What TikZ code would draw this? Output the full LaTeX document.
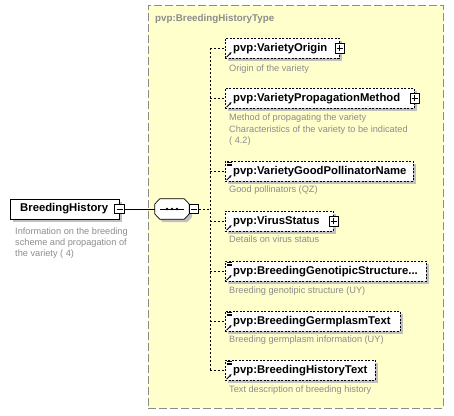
\documentclass[tikz,border=0pt]{standalone}
\usepackage{fontspec}
\setmainfont{Liberation Sans}
\usetikzlibrary{shadows,arrows.meta}
\definecolor{ybg}{HTML}{FFFFCC}
\definecolor{ybd}{HTML}{8C8C8C}
\definecolor{desc}{HTML}{8C8C8C}
\definecolor{shad}{HTML}{C0C0C0}
\tikzset{
  shd/.style={drop shadow={shadow xshift=3pt,shadow yshift=-3pt,fill=shad,opacity=1}},
  elbox/.style={draw=black,fill=white,dash pattern=on 2pt off 1.5pt,line width=0.7pt,shd,anchor=north west,minimum height=20pt,inner sep=0pt},
  lbl/.style={font=\bfseries\fontsize{11.3}{13}\selectfont,anchor=west,inner sep=0pt},
  dsc/.style={font=\fontsize{9.2}{11.2}\selectfont,text=desc,anchor=north west,align=left,inner sep=0pt},
  pmbox/.style={draw=black,fill=white,line width=0.8pt,minimum size=9.5pt,inner sep=0pt},
  conn/.style={line width=0.7pt,dash pattern=on 2pt off 2pt},
  arr/.style={line width=0.8pt,-{Stealth[length=2.6pt,width=2.6pt]}},
}
\newcommand{\plusmark}[1]{\draw[line width=0.8pt] ([xshift=-3pt]#1.center) -- ([xshift=3pt]#1.center) ([yshift=-3pt]#1.center) -- ([yshift=3pt]#1.center);}
\newcommand{\minusmark}[1]{\draw[line width=0.8pt] ([xshift=-3pt]#1.center) -- ([xshift=3pt]#1.center);}
\newcommand{\eqicon}[1]{\draw[line width=0.6pt] ([xshift=1.5pt,yshift=-1pt]#1.north west) -- ++(5,0) ([xshift=1.5pt,yshift=-2.8pt]#1.north west) -- ++(5,0) ([xshift=1.5pt,yshift=-4.6pt]#1.north west) -- ++(5,0);}
\newcommand{\refarrow}[1]{\draw[arr] ([xshift=1.5pt,yshift=1.5pt]#1.south west) -- ++(5,-5);}
\newcommand{\octpath}[1]{([yshift=5pt]#1.west) -- ([xshift=5pt]#1.north west) -- ([xshift=-5pt]#1.north east) -- ([yshift=5pt]#1.east) -- ([yshift=-5pt]#1.east) -- ([xshift=-5pt]#1.south east) -- ([xshift=5pt]#1.south west) -- ([yshift=-5pt]#1.west) -- cycle}
\begin{document}
\begin{tikzpicture}[x=1pt,y=-1pt]
\useasboundingbox (0,0) rectangle (454,415);
% type container
\node[draw=ybd,fill=ybg,line width=0.9pt,dash pattern=on 8pt off 3pt,anchor=north west,minimum width=295pt,minimum height=403pt,inner sep=0pt] (type) at (148,5) {};
\node[font=\bfseries\fontsize{9.8}{11}\selectfont,text=ybd,anchor=west,inner sep=0pt] (typet) at (155,19) {pvp:BreedingHistoryType};
% root element
\node[draw=black,fill=white,line width=0.7pt,shd,anchor=north west,minimum width=109pt,minimum height=20pt,inner sep=0pt] (root) at (10,199) {};
\node[lbl] (roott) at (20,209) {BreedingHistory};
\node[pmbox] (rootm) at (119.5,209) {};
\minusmark{rootm}
\node[dsc] (rootd) at (15,227.5) {Information on the breeding\\scheme and propagation of\\the variety ( 4)};
% sequence compositor
\node[inner sep=0pt,minimum width=34pt,minimum height=20pt] (seq) at (172,209) {};
\fill[shad,transform canvas={shift={(3pt,-3pt)}}] \octpath{seq};
\draw[line width=0.7pt,fill=white] \octpath{seq};
\draw[line width=0.8pt] ([xshift=-12pt]seq.center) -- ([xshift=12pt]seq.center);
\foreach \dx in {-5,0,5} \fill ([xshift=\dx pt]seq.center) circle (1.3pt);
\node[pmbox] (seqm) at (194,209) {};
\minusmark{seqm}
\draw[line width=0.8pt] (rootm.east) -- (seq.west);
\coordinate (bus) at (210,209);
\coordinate (bustop) at (210,48);
\coordinate (busbot) at (210,370);
\draw[conn] (seqm.east) -- (bus);
\draw[conn] (bustop) -- (busbot);
% children
\node[elbox,minimum width=114pt] (c1) at (225,38) {};
\node[lbl] (c1t) at ([xshift=8pt]c1.west) {pvp:VarietyOrigin};
\node[pmbox] (c1p) at (c1.east) {};
\plusmark{c1p}
\refarrow{c1}
\node[dsc] (c1d) at (229,65) {Origin of the variety};

\node[elbox,minimum width=189pt] (c2) at (225,88) {};
\node[lbl] (c2t) at ([xshift=8pt]c2.west) {pvp:VarietyPropagationMethod};
\node[pmbox] (c2p) at (c2.east) {};
\plusmark{c2p}
\refarrow{c2}
\node[dsc] (c2d) at (229,114) {Method of propagating the variety\\Characteristics of the variety to be indicated\\( 4.2)};

\node[elbox,minimum width=188pt] (c3) at (225,161) {};
\node[lbl] (c3t) at ([xshift=8pt]c3.west) {pvp:VarietyGoodPollinatorName};
\eqicon{c3}
\refarrow{c3}
\node[dsc] (c3d) at (229,186) {Good pollinators (QZ)};

\node[elbox,minimum width=108pt] (c4) at (225,211) {};
\node[lbl] (c4t) at ([xshift=8pt]c4.west) {pvp:VirusStatus};
\node[pmbox] (c4p) at (c4.east) {};
\plusmark{c4p}
\refarrow{c4}
\node[dsc] (c4d) at (229,236) {Details on virus status};

\node[elbox,minimum width=201pt] (c5) at (225,261) {};
\node[lbl] (c5t) at ([xshift=8pt]c5.west) {pvp:BreedingGenotipicStructure...};
\eqicon{c5}
\refarrow{c5}
\node[dsc] (c5d) at (229,287) {Breeding genotipic structure (UY)};

\node[elbox,minimum width=175pt] (c6) at (225,311) {};
\node[lbl] (c6t) at ([xshift=8pt]c6.west) {pvp:BreedingGermplasmText};
\eqicon{c6}
\refarrow{c6}
\node[dsc] (c6d) at (229,336) {Breeding germplasm information (UY)};

\node[elbox,minimum width=150pt] (c7) at (225,360) {};
\node[lbl] (c7t) at ([xshift=8pt]c7.west) {pvp:BreedingHistoryText};
\eqicon{c7}
\refarrow{c7}
\node[dsc] (c7d) at (229,386) {Text description of breeding history};

\foreach \c in {c1,c2,c3,c4,c5,c6,c7} \draw[conn] (\c.west -| bus) -- (\c.west);
\end{tikzpicture}
\end{document}
